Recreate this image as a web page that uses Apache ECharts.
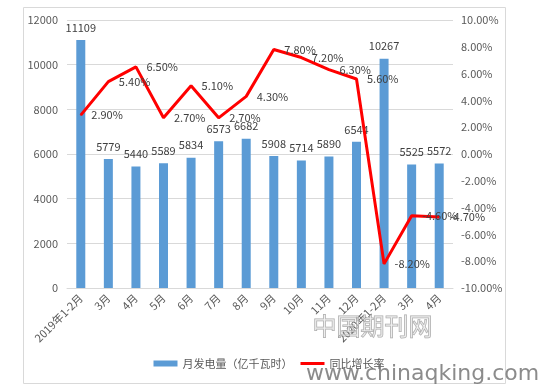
<!DOCTYPE html>
<html><head><meta charset="utf-8">
<script src="https://cdn.jsdelivr.net/npm/echarts@6/dist/echarts.min.js"></script>
<style>html,body{margin:0;padding:0;background:#fff}#c{width:538px;height:388px}</style>
</head><body><div id="c"></div>
<script>
var categories = ['2019年1-2月','3月','4月','5月','6月','7月','8月','9月','10月','11月','12月','2020年1-2月','3月','4月'];
var power = [11109, 5779, 5440, 5589, 5834, 6573, 6682, 5908, 5714, 5890, 6544, 10267, 5525, 5572];
var growth = [2.9, 5.4, 6.5, 2.7, 5.1, 2.7, 4.3, 7.8, 7.2, 6.3, 5.6, -8.2, -4.6, -4.7];
var leftTicks = {min: 0, max: 12000, interval: 2000};
var rightTicks = {min: -10, max: 10, interval: 2};

var font = '"Noto Sans CJK SC", "Noto Sans", sans-serif';
var chart = echarts.init(document.getElementById('c'));
chart.setOption({
  animation: false,
  textStyle: {fontFamily: font},
  grid: {left: 67, right: 85, top: 20, bottom: 100, containLabel: false},
  graphic: [
    {type: 'rect', shape: {x: 23.5, y: 7.5, width: 482, height: 376}, style: {fill: 'none', stroke: '#d9d9d9', lineWidth: 1}, z: -1},
    {type: 'text', left: 312, top: 313, style: {text: '中国期刊网', font: '24px "Noto Sans CJK SC"', fill: 'rgba(235,235,235,0.5)', stroke: 'rgba(140,140,140,0.75)', lineWidth: 1}, z: 100},
    {type: 'text', left: 306, top: 363, style: {text: 'www.chinaqking.com', font: '22px "DejaVu Sans"', fill: 'rgba(110,110,110,0.8)'}, z: 100}
  ],
  legend: {
    bottom: 14, left: 'center',
    itemGap: 8, itemWidth: 24, itemHeight: 6,
    textStyle: {fontSize: 11, color: '#595959', fontFamily: font},
    data: [
      {name: '月发电量（亿千瓦时）', icon: 'rect'},
      {name: '同比增长率', icon: 'path://M0,0 L24,0 L24,3 L0,3 Z'}
    ]
  },
  xAxis: {
    type: 'category', data: categories,
    axisLine: {lineStyle: {color: '#d9d9d9'}},
    axisTick: {show: false},
    axisLabel: {rotate: 45, color: '#595959', fontSize: 11, interval: 0, margin: 8}
  },
  yAxis: [
    {type: 'value', min: leftTicks.min, max: leftTicks.max, interval: leftTicks.interval,
     axisLine: {show: false}, axisTick: {show: false},
     axisLabel: {color: '#595959', fontSize: 11, margin: 9, formatter: function(v){return String(v);}},
     splitLine: {lineStyle: {color: '#d9d9d9'}}},
    {type: 'value', min: rightTicks.min, max: rightTicks.max, interval: rightTicks.interval,
     axisLine: {show: false}, axisTick: {show: false},
     axisLabel: {color: '#595959', fontSize: 11, margin: 8, formatter: function(v){return v.toFixed(2)+'%';}},
     splitLine: {show: false}}
  ],
  series: [
    {name: '月发电量（亿千瓦时）', type: 'bar', data: power, barWidth: 9,
     itemStyle: {color: '#5B9BD5'},
     label: {show: true, position: 'top', distance: 7, color: '#404040', fontSize: 11}},
    {name: '同比增长率', type: 'line', yAxisIndex: 1, data: growth,
     symbol: 'circle', symbolSize: 1, showSymbol: true,
     lineStyle: {color: '#FF0000', width: 3}, itemStyle: {color: '#FF0000'},
     label: {show: true, position: 'right', distance: 10, color: '#404040', fontSize: 11,
       formatter: function(p){return p.value.toFixed(2)+'%';}},
     labelLayout: {hideOverlap: false}}
  ]
});
</script></body></html>
